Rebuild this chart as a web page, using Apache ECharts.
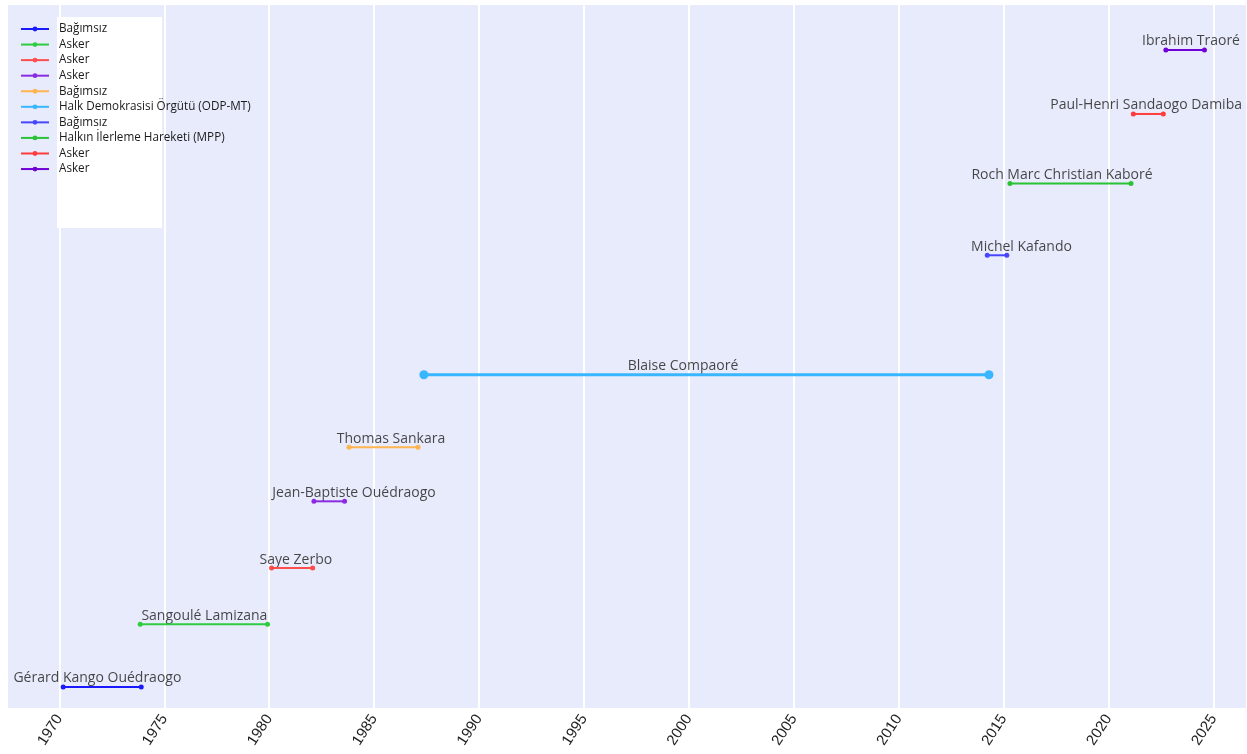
<!DOCTYPE html>
<html>
<head>
<meta charset="utf-8">
<script src="https://cdn.jsdelivr.net/npm/echarts@6/dist/echarts.min.js"></script>
<style>html,body{margin:0;padding:0;background:#fff}#c{width:1247px;height:754px}</style>
</head>
<body>
<div id="c"></div>
<script>
// ---- data ----
const leaders = ["Gérard Kango Ouédraogo","Sangoulé Lamizana","Saye Zerbo","Jean-Baptiste Ouédraogo","Thomas Sankara","Blaise Compaoré","Michel Kafando","Roch Marc Christian Kaboré","Paul-Henri Sandaogo Damiba","Ibrahim Traoré"];
const parties = ["Bağımsız","Asker","Asker","Asker","Bağımsız","Halk Demokrasisi Örgütü (ODP-MT)","Bağımsız","Halkın İlerleme Hareketi (MPP)","Asker","Asker"];
const startYears = [1970.18,1973.85,1980.11,1982.13,1983.80,1987.37,2014.22,2015.30,2021.18,2022.73];
const endYears   = [1973.90,1979.92,1982.07,1983.59,1987.09,2014.30,2015.15,2021.07,2022.61,2024.57];
const levels     = [3.0,11.9,19.9,29.4,37.1,47.4,64.4,74.6,84.5,93.6];
const labelYears = [1971.81,1976.91,1981.27,1984.04,1985.80,1999.72,2015.85,2017.78,2021.79,2023.93];
const tickYears  = [1970,1975,1980,1985,1990,1995,2000,2005,2010,2015,2020,2025];
const colors = ["#1a1aff","#2ecc40","#ff4d4d","#8a2be2","#ffb450","#38b6ff","#4646ff","#2bc336","#ff3b3b","#7000d8"];

const series = leaders.map((n, i) => {
  const big = i === 5;
  return {
    type: 'line',
    name: parties[i] + '#' + i,
    data: [[startYears[i], levels[i]], [endYears[i], levels[i]]],
    symbol: 'circle',
    symbolSize: big ? 9 : 5,
    showSymbol: true,
    lineStyle: { width: big ? 3 : 2, color: colors[i] },
    itemStyle: { color: colors[i] },
    animation: false
  };
});
series.push({
  type: 'scatter',
  name: 'labels',
  symbolSize: 1,
  itemStyle: { color: 'rgba(0,0,0,0)' },
  data: leaders.map((n, i) => ({ name: n, value: [labelYears[i], levels[i]] })),
  label: {
    show: true, position: 'top', distance: 1,
    formatter: p => p.name,
    fontFamily: 'Open Sans', fontSize: 14, color: '#1a1a1a'
  },
  animation: false,
  silent: true
});

const chart = echarts.init(document.getElementById('c'), null, { renderer: 'canvas' });
chart.setOption({
  animation: false,
  backgroundColor: '#ffffff',
  grid: { left: 8, right: 1, top: 5, bottom: 46, show: true, backgroundColor: '#e8ebfb', borderWidth: 0 },
  graphic: [{ type: 'rect', left: 57, top: 17, shape: { width: 105, height: 211 }, style: { fill: '#ffffff' }, z: 1, silent: true }],
  legend: {
    orient: 'vertical', left: 15, top: 18,
    itemWidth: 28, itemHeight: 6, itemGap: 3.56,
    data: leaders.map((n, i) => parties[i] + '#' + i),
    formatter: name => name.split('#')[0],
    textStyle: { fontFamily: 'Open Sans', fontSize: 11.7, lineHeight: 12, color: '#1a1a1a', padding: [0, 0, 0, 5] },
    z: 4
  },
  xAxis: {
    type: 'value', min: 1967.55, max: 2026.55,
    axisLine: { show: false },
    axisTick: { show: false, customValues: tickYears },
    axisLabel: { customValues: tickYears, rotate: 57, fontFamily: 'Liberation Sans', fontSize: 15, color: '#1f1f1f', margin: 8, formatter: v => String(v) },
    splitLine: { show: true, lineStyle: { color: '#ffffff', width: 2 } }
  },
  yAxis: { type: 'value', min: 0, max: 100, show: false, splitLine: { show: false } },
  series: series
});
</script>
</body>
</html>
